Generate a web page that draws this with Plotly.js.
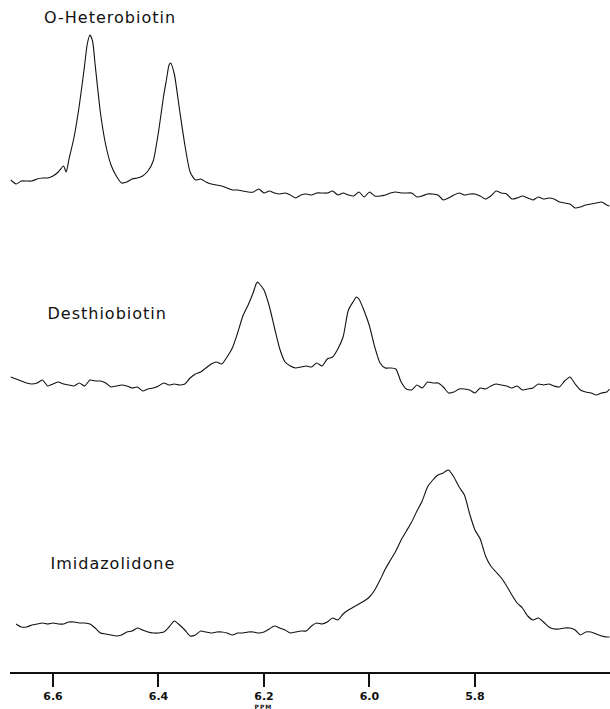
<!DOCTYPE html>
<html>
<head>
<meta charset="utf-8">
<script src="https://cdn.plot.ly/plotly-3.0.1.min.js"></script>
<style>
html,body{margin:0;padding:0;background:#fff;}
#chart{width:610px;height:709px;}
#chart .annotation-text{letter-spacing:1px;}
</style>
</head>
<body>
<div id="chart"></div>
<script>
// ---- Data (chemical shift in ppm, signal intensity in arbitrary units) ----
const names = ["O-Heterobiotin", "Desthiobiotin", "Imidazolidone"];

const ppm1 = [6.68,6.67,6.66,6.65,6.64,6.63,6.62,6.61,6.60,6.59,
  6.58,6.575,6.57,6.56,6.55,6.54,6.535,6.53,6.525,6.52,
  6.51,6.50,6.49,6.48,6.47,6.46,6.45,6.44,6.43,6.42,
  6.41,6.40,6.39,6.385,6.38,6.377,6.37,6.36,6.35,6.34,
  6.33,6.32,6.31,6.30,6.29,6.28,6.27,6.26,6.25,6.24,
  6.23,6.22,6.21,6.20,6.19,6.18,6.17,6.16,6.15,6.14,
  6.13,6.12,6.11,6.10,6.09,6.08,6.07,6.06,6.05,6.04,
  6.03,6.02,6.01,6.00,5.99,5.98,5.97,5.96,5.95,5.94,
  5.93,5.92,5.91,5.90,5.89,5.88,5.87,5.86,5.85,5.84,
  5.83,5.82,5.81,5.80,5.79,5.78,5.77,5.76,5.75,5.74,
  5.73,5.72,5.71,5.70,5.69,5.68,5.67,5.66,5.65,5.64,
  5.63,5.62,5.61,5.60,5.59,5.58,5.57,5.56,5.55,5.545];
const int1 = [35,31,34,34,34,36,37,37,39,43,
  49,43,55,78,110,150,171,180,174,150,
  102,70,50,39,32,33,36,37,39,44,
  54,83,120,135,150,152,141,105,70,43,
  35,36,33,31,30,29,27,25,25,24,
  23,23,26,22,24,22,21,22,20,17,
  20,21,20,22,22,22,24,20,22,20,
  19,23,18,23,19,19,20,22,23,22,
  22,22,18,19,21,21,20,15,17,20,
  22,20,21,21,19,16,19,24,22,21,
  16,17,19,17,15,18,16,17,16,13,
  12,11,7,8,10,11,12,13,10,9];

const ppm2 = [6.68,6.67,6.66,6.65,6.64,6.63,6.62,6.61,6.60,6.59,
  6.58,6.57,6.56,6.55,6.54,6.53,6.52,6.51,6.50,6.49,
  6.48,6.47,6.46,6.45,6.44,6.43,6.42,6.41,6.40,6.39,
  6.38,6.37,6.36,6.35,6.34,6.33,6.32,6.31,6.30,6.29,
  6.28,6.27,6.26,6.25,6.24,6.23,6.22,6.215,6.212,6.21,
  6.20,6.19,6.18,6.17,6.16,6.15,6.14,6.13,6.12,6.11,
  6.10,6.09,6.08,6.07,6.06,6.05,6.04,6.03,6.025,6.02,
  6.01,6.00,5.99,5.98,5.97,5.96,5.95,5.94,5.93,5.92,
  5.91,5.90,5.89,5.88,5.87,5.86,5.85,5.84,5.83,5.82,
  5.81,5.80,5.79,5.78,5.77,5.76,5.75,5.74,5.73,5.72,
  5.71,5.70,5.69,5.68,5.67,5.66,5.65,5.64,5.63,5.62,
  5.61,5.60,5.59,5.58,5.57,5.56,5.55,5.545];
const int2 = [28,26,24,22,21,22,25,19,21,23,
  21,20,19,22,19,25,24,24,22,18,
  19,20,19,17,18,14,16,17,19,22,
  20,21,20,21,27,31,33,37,41,43,
  41,48,57,72,89,100,113,121,123,122,
  115,99,77,56,43,39,37,38,39,38,
  42,39,46,48,56,68,95,104,108,106,
  94,79,58,42,37,37,36,23,16,15,
  20,17,23,22,22,18,12,13,16,16,
  15,12,17,16,19,21,20,19,17,19,
  15,16,17,21,20,21,19,18,24,28,
  21,15,13,12,10,12,13,16];

const ppm3 = [6.67,6.66,6.65,6.64,6.63,6.62,6.61,6.60,6.59,6.58,
  6.57,6.56,6.55,6.54,6.53,6.52,6.51,6.50,6.49,6.48,
  6.47,6.46,6.45,6.44,6.43,6.42,6.41,6.40,6.39,6.38,
  6.37,6.36,6.35,6.34,6.33,6.32,6.31,6.30,6.29,6.28,
  6.27,6.26,6.25,6.24,6.23,6.22,6.21,6.20,6.19,6.18,
  6.17,6.16,6.15,6.14,6.13,6.12,6.11,6.10,6.09,6.08,
  6.07,6.06,6.05,6.04,6.03,6.02,6.01,6.00,5.99,5.98,
  5.97,5.96,5.95,5.94,5.93,5.92,5.91,5.90,5.89,5.88,
  5.87,5.86,5.855,5.85,5.84,5.83,5.82,5.81,5.80,5.79,
  5.78,5.77,5.76,5.75,5.74,5.73,5.72,5.71,5.70,5.69,
  5.68,5.67,5.66,5.65,5.64,5.63,5.62,5.61,5.60,5.59,
  5.58,5.57,5.56,5.55,5.545];
const int3 = [26,23,23,25,26,27,26,27,26,26,
  28,28,27,27,26,22,17,16,15,14,
  15,18,19,22,20,18,17,17,18,23,
  29,25,20,14,15,19,18,17,18,18,
  17,15,17,17,18,18,17,18,21,24,
  22,20,17,18,19,19,24,27,26,28,
  32,30,36,40,43,46,49,53,60,70,
  81,90,99,110,119,128,139,149,163,170,
  175,177,179,180,173,163,155,136,120,111,
  94,84,78,72,64,55,47,42,34,30,
  32,28,23,21,21,22,22,20,15,18,
  18,16,14,13,13];

const tickVals = [6.6, 6.4, 6.2, 6.0, 5.8];
const tickText = ["6.6", "6.4", "6.2", "6.0", "5.8"];
const axisUnit = "PPM";

// ---- Layout helpers (pixel bands of the 709px-high figure) ----
const H = 709, mB = 36, plotH = H - mB;
function dom(topPx, botPx) { return [(plotH - botPx) / plotH, (plotH - topPx) / plotH]; }
function py(px) { return (plotH - px) / plotH; }

const line = {color: "#111", width: 1.1, shape: "spline", smoothing: 0.6};
const traces = [
  {x: ppm1, y: int1, type: "scatter", mode: "lines", line: line, xaxis: "x", yaxis: "y", name: names[0], hoverinfo: "x+y"},
  {x: ppm2, y: int2, type: "scatter", mode: "lines", line: line, xaxis: "x", yaxis: "y2", name: names[1], hoverinfo: "x+y"},
  {x: ppm3, y: int3, type: "scatter", mode: "lines", line: line, xaxis: "x", yaxis: "y3", name: names[2], hoverinfo: "x+y"}
];

const hidden = {visible: false, fixedrange: true};
const labelFont = {family: "DejaVu Sans, Arial, sans-serif", size: 16, color: "#111"};

const layout = {
  width: 610, height: H,
  margin: {l: 10, r: 0, t: 0, b: mB, pad: 0},
  paper_bgcolor: "#fff", plot_bgcolor: "#fff",
  showlegend: false,
  xaxis: {
    range: [6.6815, 5.544], anchor: "free", position: 0,
    showline: true, linecolor: "#111", linewidth: 2,
    showgrid: false, zeroline: false,
    ticks: "outside", ticklen: 13, tickwidth: 2, tickcolor: "#111",
    tickvals: tickVals, ticktext: tickText,
    tickfont: {family: "DejaVu Sans, Arial, sans-serif", size: 11, color: "#111", weight: "bold"}
  },
  yaxis: Object.assign({domain: dom(15, 215), range: [0, 200]}, hidden),
  yaxis2: Object.assign({domain: dom(265, 405), range: [0, 140]}, hidden),
  yaxis3: Object.assign({domain: dom(450, 650), range: [0, 200]}, hidden),
  annotations: [
    {text: names[0], xref: "paper", yref: "paper", x: (49 - 10) / 600, y: py(17), xanchor: "left", yanchor: "middle", showarrow: false, font: labelFont},
    {text: names[1], xref: "paper", yref: "paper", x: (52 - 10) / 600, y: py(313), xanchor: "left", yanchor: "middle", showarrow: false, font: labelFont},
    {text: names[2], xref: "paper", yref: "paper", x: (55 - 10) / 600, y: py(563), xanchor: "left", yanchor: "middle", showarrow: false, font: labelFont},
    {text: axisUnit, xref: "x", yref: "paper", x: 6.2, y: py(706), xanchor: "center", yanchor: "middle", showarrow: false, font: {family: "DejaVu Sans, Arial, sans-serif", size: 6, color: "#111", weight: "bold"}}
  ]
};

Plotly.newPlot("chart", traces, layout, {displayModeBar: false, staticPlot: true});
</script>
</body>
</html>
